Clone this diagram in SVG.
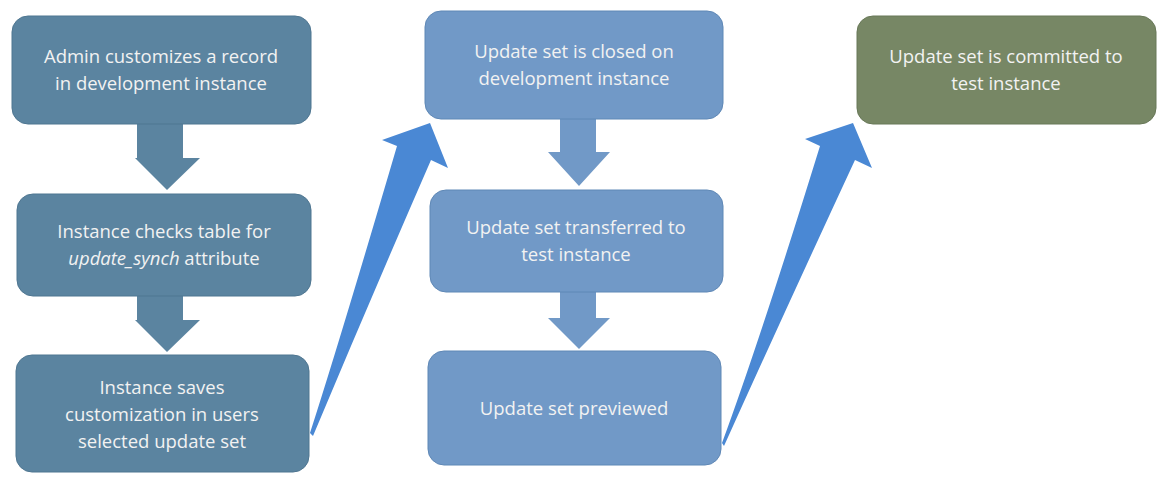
<svg xmlns="http://www.w3.org/2000/svg" width="1172" height="484" viewBox="0 0 1172 484">
<style>
.a{fill:#5b84a0;stroke:#4f7691;stroke-width:1}
.b{fill:#7199c7;stroke:#5f88b6;stroke-width:1}
.c{fill:#778765;stroke:#687858;stroke-width:1}
.da{fill:#5b84a0}
.db{fill:#7199c7}
.big{fill:#4a88d4}
text{font-family:"Open Sans","Noto Sans",sans-serif;font-size:18.5px;fill:#f2f2f2;text-anchor:middle}
</style>
<rect width="1172" height="484" fill="#fff"/>
<g id="connectors">
<polygon class="da" points="137,124 183,124 183,158 200,158 167,190 135,158 137,158"/>
<polygon class="da" points="137,296 183,296 183,320 200,320 167,352 135,320 137,320"/>
<polygon class="db" points="560,119 596,119 596,152 610,152 579,186 548,152 560,152"/>
<polygon class="db" points="560,292 596,292 596,318 610,318 579,349 548,318 560,318"/>
<path class="big" d="M310,433 Q340,340 397,146 L382,140 L430,123 L448,168 L431,160 Q370,300 313,436 Z"/>
<path class="big" d="M722,443 Q760,340 820,146 L805,139 L853,123 L872,168 L855,160 Q790,300 724,446 Z"/>
</g>
<g id="n1"><rect class="a" x="12" y="16" width="299" height="108" rx="16"/><text x="161" y="63">Admin customizes a record</text><text x="161" y="90">in development instance</text></g>
<g id="n2"><rect class="a" x="17" y="194" width="294" height="102" rx="16"/><text x="164" y="238">Instance checks table for</text><text x="164" y="265"><tspan font-style="italic">update_synch</tspan> attribute</text></g>
<g id="n3"><rect class="a" x="16" y="355" width="293" height="117" rx="16"/><text x="162" y="394">Instance saves</text><text x="162" y="421">customization in users</text><text x="162" y="448">selected update set</text></g>
<g id="n4"><rect class="b" x="425" y="11" width="298" height="108" rx="16"/><text x="574" y="58">Update set is closed on</text><text x="574" y="85">development instance</text></g>
<g id="n5"><rect class="b" x="430" y="190" width="293" height="102" rx="16"/><text x="576" y="234">Update set transferred to</text><text x="576" y="261">test instance</text></g>
<g id="n6"><rect class="b" x="428" y="351" width="293" height="114" rx="16"/><text x="574" y="415">Update set previewed</text></g>
<g id="n7"><rect class="c" x="857" y="16" width="299" height="108" rx="16"/><text x="1006" y="63">Update set is committed to</text><text x="1006" y="90">test instance</text></g>
</svg>
